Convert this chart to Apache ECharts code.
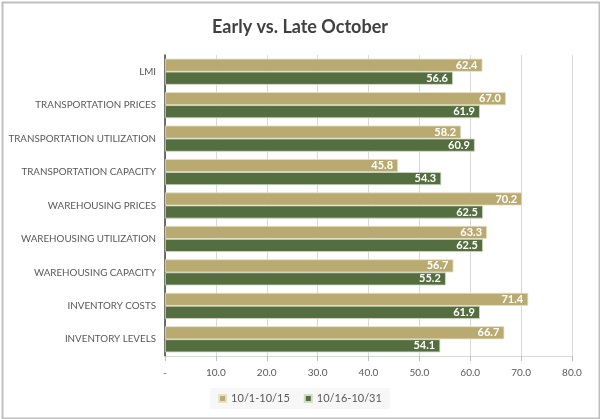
<!DOCTYPE html>
<html>
<head>
<meta charset="utf-8">
<script src="https://cdn.jsdelivr.net/npm/echarts@6/dist/echarts.min.js"></script>
<style>
html,body{margin:0;padding:0;background:#fff;}
#c{width:600px;height:419px;}
</style>
</head>
<body>
<div id="c"></div>
<script>
const categories = ["LMI","TRANSPORTATION PRICES","TRANSPORTATION UTILIZATION","TRANSPORTATION CAPACITY","WAREHOUSING PRICES","WAREHOUSING UTILIZATION","WAREHOUSING CAPACITY","INVENTORY COSTS","INVENTORY LEVELS"];
const earlyName = "10/1-10/15";
const lateName = "10/16-10/31";
const earlyValues = [62.4, 67.0, 58.2, 45.8, 70.2, 63.3, 56.7, 71.4, 66.7];
const lateValues = [56.6, 61.9, 60.9, 54.3, 62.5, 62.5, 55.2, 61.9, 54.1];
const xTicks = [0, 10, 20, 30, 40, 50, 60, 70, 80];
const title = "Early vs. Late October";

const FONT = "Lato";
const chart = echarts.init(document.getElementById('c'), null, {renderer:'canvas'});
const labelCfg = {
  show: true, position: 'insideRight', distance: 5, color: '#fff',
  fontFamily: FONT, fontSize: 11, fontWeight: 'bold',
  formatter: p => p.value.toFixed(1)
};
chart.setOption({
  animation: false,
  backgroundColor: '#fff',
  graphic: [{
    type: 'rect', left: 0, top: 0, silent: true,
    shape: {x: 1, y: 1, width: 597, height: 416},
    style: {fill: 'none', stroke: '#bfbfbf', lineWidth: 2}
  }],
  title: {
    text: title, left: 'center', top: 13,
    textStyle: {fontFamily: FONT, fontSize: 18, fontWeight: 'bold', color: '#404040'}
  },
  legend: {
    bottom: 10, left: 'center',
    itemWidth: 7, itemHeight: 7, itemGap: 14,
    icon: 'rect',
    backgroundColor: '#f7f7f7', padding: [5, 8],
    textStyle: {fontFamily: FONT, fontSize: 11, color: '#595959'},
    data: [earlyName, lateName]
  },
  grid: {left: 165, right: 28, top: 55, bottom: 63, containLabel: false},
  xAxis: {
    type: 'value', min: xTicks[0], max: xTicks[xTicks.length-1], interval: 10,
    axisLine: {show: true, lineStyle: {color: '#d9d9d9'}},
    axisTick: {show: true, length: 5, lineStyle: {color: '#bfbfbf'}},
    splitLine: {show: true, lineStyle: {color: '#d9d9d9'}},
    axisLabel: {
      fontFamily: FONT, fontSize: 10, color: '#595959', margin: 12,
      formatter: v => v === 0 ? '-' : v.toFixed(1)
    }
  },
  yAxis: {
    type: 'category', data: categories, inverse: true,
    axisLine: {show: true, lineStyle: {color: '#404040', width: 1.5}},
    axisTick: {show: false},
    axisLabel: {fontFamily: FONT, fontSize: 9.8, color: '#595959', margin: 9}
  },
  series: [
    {
      name: earlyName, type: 'bar', data: earlyValues,
      barGap: '0%', barCategoryGap: '22%',
      itemStyle: {color: '#B9AA72', borderColor: '#e6e0c8', borderWidth: 0.8},
      label: labelCfg
    },
    {
      name: lateName, type: 'bar', data: lateValues,
      itemStyle: {color: '#546E3F', borderColor: '#d2dac8', borderWidth: 0.8},
      label: labelCfg
    }
  ]
});
</script>
</body>
</html>
